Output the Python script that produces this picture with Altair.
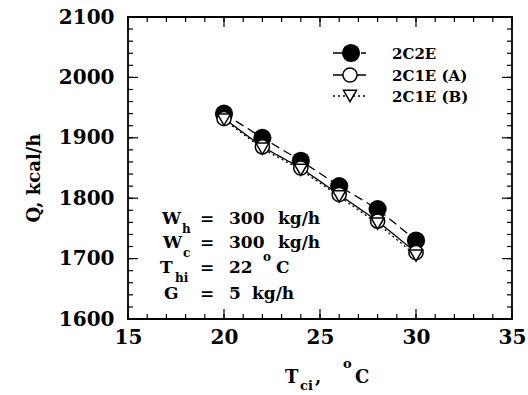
import altair as alt
import pandas as pd

# ---- data ----
t_ci = [20, 22, 24, 26, 28, 30]
q_2c2e = [1940, 1900, 1862, 1820, 1782, 1730]
q_2c1e_a = [1932, 1885, 1850, 1806, 1762, 1710]
q_2c1e_b = [1930, 1882, 1847, 1803, 1758, 1705]
series_names = ["2C2E", "2C1E (A)", "2C1E (B)"]

x_major = [15, 20, 25, 30, 35]
x_minor = list(range(15, 36))
y_major = [1600, 1700, 1800, 1900, 2000, 2100]
y_minor = list(range(1600, 2101, 20))

W, H = 384, 302
FONT = "DejaVu Serif"

xscale = alt.Scale(domain=[15, 35], nice=False, zero=False)
yscale = alt.Scale(domain=[1600, 2100], nice=False, zero=False)

xaxis = alt.Axis(values=x_major, ticks=False, domain=False, grid=False, labelFont=FONT,
                 labelFontWeight="bold", labelFontSize=20, labelPadding=8, labelColor="black",
                 labelFlush=False, labelOverlap=False, format="d")
yaxis = alt.Axis(values=y_major, ticks=False, domain=False, grid=False, labelFont=FONT,
                 labelFontWeight="bold", labelFontSize=20, labelPadding=14, labelColor="black",
                 labelFlush=False, labelOverlap=False, format="d")

def X(field):
    return alt.X(f"{field}:Q", scale=xscale, axis=xaxis, title=None)

def Y(field):
    return alt.Y(f"{field}:Q", scale=yscale, axis=yaxis, title=None)

rows = []
for name, vals in zip(series_names, [q_2c2e, q_2c1e_a, q_2c1e_b]):
    for t, q in zip(t_ci, vals):
        rows.append({"series": name, "t": t, "q": q})
df = pd.DataFrame(rows)

dashes = {"2C2E": [9, 5], "2C1E (A)": [1, 0], "2C1E (B)": [2, 3]}
layers = []

for name in series_names:
    layers.append(
        alt.Chart(df[df.series == name]).mark_line(color="black", strokeWidth=1.3,
                                                     strokeDash=dashes[name])
        .encode(x=X("t"), y=Y("q"))
    )

layers.append(alt.Chart(df[df.series == "2C2E"]).mark_point(
    shape="circle", filled=True, color="black", size=330, opacity=1).encode(x=X("t"), y=Y("q")))
layers.append(alt.Chart(df[df.series == "2C1E (A)"]).mark_point(
    shape="circle", filled=True, fill="white", stroke="black", strokeWidth=1.5, size=200,
    opacity=1).encode(x=X("t"), y=Y("q")))
layers.append(alt.Chart(df[df.series == "2C1E (B)"]).mark_point(
    shape="triangle-down", filled=True, fill="white", stroke="black", strokeWidth=1.5, size=170,
    opacity=1).encode(x=X("t"), y=Y("q")))

# ---- inward ticks on all four sides ----
xmin_df = pd.DataFrame({"v": x_minor})
xmaj_df = pd.DataFrame({"v": x_major})
ymin_df = pd.DataFrame({"v": y_minor})
ymaj_df = pd.DataFrame({"v": y_major})
for d, ln in [(xmin_df, 5), (xmaj_df, 10)]:
    layers.append(alt.Chart(d).mark_rule(color="black", strokeWidth=1.2).encode(
        x=X("v"), y=alt.value(H), y2=alt.value(H - ln)))
    layers.append(alt.Chart(d).mark_rule(color="black", strokeWidth=1.2).encode(
        x=X("v"), y=alt.value(0), y2=alt.value(ln)))
for d, ln in [(ymin_df, 5), (ymaj_df, 10)]:
    layers.append(alt.Chart(d).mark_rule(color="black", strokeWidth=1.2).encode(
        y=Y("v"), x=alt.value(0), x2=alt.value(ln)))
    layers.append(alt.Chart(d).mark_rule(color="black", strokeWidth=1.2).encode(
        y=Y("v"), x=alt.value(W), x2=alt.value(W - ln)))

# ---- helpers for pixel-placed text (relative to plot origin at 128,17) ----
OX, OY = 128, 17

def txt(s, x, y, size=17, align="left", angle=0, baseline="alphabetic"):
    kw = dict(text=s, font=FONT, fontWeight="bold", fontSize=size, color="black",
              align=align, baseline=baseline)
    if angle:
        kw["angle"] = angle
    return alt.Chart(pd.DataFrame({"a": [0]})).mark_text(**kw).encode(
        x=alt.value(x - OX), y=alt.value(y - OY))

# ---- legend ----
leg_y = [53, 75, 96]
for name, yy in zip(series_names, leg_y):
    ldf = pd.DataFrame({"label": [name]})
    layers.append(alt.Chart(ldf).mark_rule(color="black", strokeWidth=1.3,
                                           strokeDash=dashes[name]).encode(
        x=alt.value(333 - OX), x2=alt.value(366 - OX), y=alt.value(yy - OY)))
    layers.append(alt.Chart(ldf).mark_text(font=FONT, fontWeight="bold", fontSize=15,
                                           align="left", baseline="middle", color="black").encode(
        x=alt.value(392 - OX), y=alt.value(yy + 1 - OY), text="label:N"))
layers.append(alt.Chart(pd.DataFrame({"a": [0]})).mark_point(
    shape="circle", filled=True, color="black", size=330, opacity=1).encode(
    x=alt.value(351 - OX), y=alt.value(leg_y[0] - OY)))
layers.append(alt.Chart(pd.DataFrame({"a": [0]})).mark_point(
    shape="circle", filled=True, fill="white", stroke="black", strokeWidth=1.5, size=200,
    opacity=1).encode(x=alt.value(350 - OX), y=alt.value(leg_y[1] - OY)))
layers.append(alt.Chart(pd.DataFrame({"a": [0]})).mark_point(
    shape="triangle-down", filled=True, fill="white", stroke="black", strokeWidth=1.5, size=170,
    opacity=1).encode(x=alt.value(350 - OX), y=alt.value(leg_y[2] - OY)))

# ---- annotation block ----
layers += [
    txt("W", 162, 224), txt("h", 182, 233, 12), txt("=", 200, 224), txt("300", 229, 224),
    txt("kg/h", 278, 224),
    txt("W", 163, 248), txt("c", 183, 257, 12), txt("=", 200, 248), txt("300", 229, 248),
    txt("kg/h", 278, 248),
    txt("T", 160, 273), txt("hi", 175, 282, 12), txt("=", 200, 273), txt("22", 229, 273),
    txt("o", 263, 261, 12), txt("C", 276, 273),
    txt("G", 164, 299), txt("=", 200, 299), txt("5", 229, 299), txt("kg/h", 252, 299),
]

# ---- axis titles ----
layers += [
    txt("Q,  kcal/h", 40, 178, 18, align="center", angle=270),
    txt("T", 285, 383, 18), txt("ci", 300, 390, 13), txt(",", 315, 383, 18),
    txt("o", 343, 368, 13), txt("C", 355, 383, 18),
]

chart = alt.layer(*layers).properties(
    width=W, height=H,
    autosize=alt.AutoSizeParams(type="none"),
    padding={"left": OX, "top": OY, "right": 528 - OX - W, "bottom": 395 - OY - H},
    background="white",
).configure_view(stroke="black", strokeWidth=1.8)

chart.save("out.html", embed_options={"renderer": "svg", "actions": False})
